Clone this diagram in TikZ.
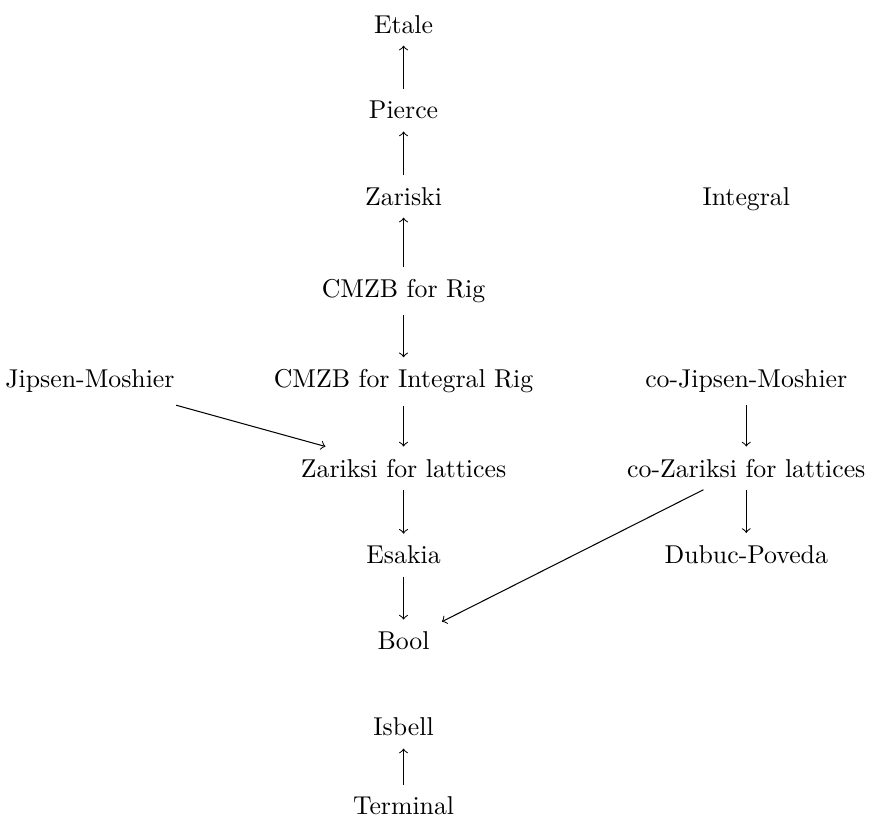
\documentclass[tikz,border=0pt]{standalone}
\usepackage{amsmath}
\usepackage{tikz}
\tikzset{
obj/.style={anchor=base, inner sep=4.6pt},
map/.style={->, >=to, line width=0.4pt},
}

\begin{document}
\begin{tikzpicture}[x=1pt, y=-1pt]
    \useasboundingbox (0,0) rectangle (337,318.7);
    % objects
    \node[obj] (etale)    at (156.5,12.8)  {Etale};
    \node[obj] (pierce)   at (156.5,46.1)  {Pierce};
    \node[obj] (zariski)  at (156.5,79.5)  {Zariski};
    \node[obj] (integral) at (289.4,79.5)  {Integral};
    \node[obj] (cmzbrig)  at (156.5,115.2) {CMZB for Rig};
    \node[obj] (jipsen)   at (34.9,150.4)  {Jipsen-Moshier};
    \node[obj] (cmzbint)  at (156.5,150.4) {CMZB for Integral Rig};
    \node[obj] (cojipsen) at (289.4,150.4) {co-Jipsen-Moshier};
    \node[obj] (zarlat)   at (156.5,185.0) {Zariksi for lattices};
    \node[obj] (cozarlat) at (289.4,185.0) {co-Zariksi for lattices};
    \node[obj] (esakia)   at (156.5,218.7) {Esakia};
    \node[obj] (dubuc)    at (289.4,218.4) {Dubuc-Poveda};
    \node[obj] (bool)     at (156.5,252.0) {Bool};
    \node[obj] (isbell)   at (156.5,285.4) {Isbell};
    \node[obj] (terminal) at (156.5,316.0) {Terminal};
    % maps
    \draw[map] (pierce) -- (etale);
    \draw[map] (zariski) -- (pierce);
    \draw[map] (cmzbrig) -- (zariski);
    \draw[map] (cmzbrig) -- (cmzbint);
    \draw[map] (cmzbint) -- (zarlat);
    \draw[map] (jipsen) -- (zarlat);
    \draw[map] (cojipsen) -- (cozarlat);
    \draw[map] (cozarlat) -- (dubuc);
    \draw[map] (cozarlat) -- (bool);
    \draw[map] (zarlat) -- (esakia);
    \draw[map] (esakia) -- (bool);
    \draw[map] (terminal) -- (isbell);
\end{tikzpicture}
\end{document}
